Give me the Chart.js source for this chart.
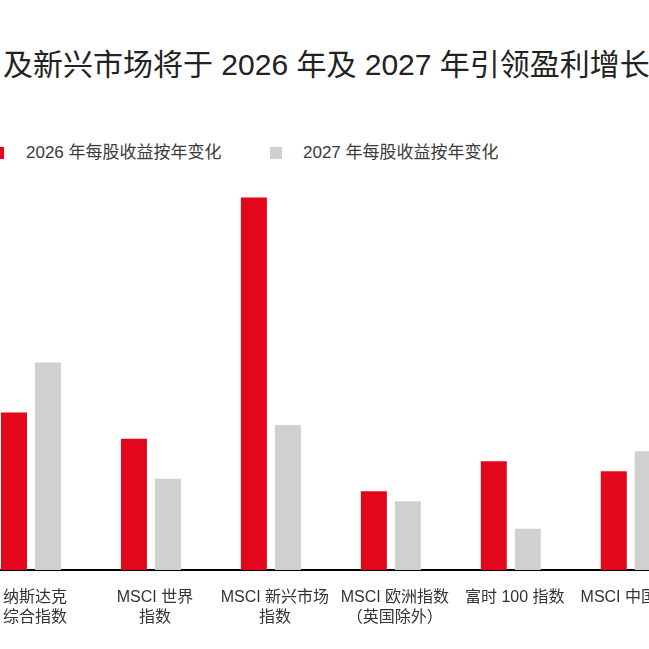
<!DOCTYPE html>
<html lang="zh">
<head>
<meta charset="utf-8">
<title>盈利增长</title>
<script src="https://cdn.jsdelivr.net/npm/chart.js@4.4.1/dist/chart.umd.min.js"></script>
<style>
  html, body { margin: 0; padding: 0; background: #fff; }
  body { width: 649px; height: 649px; overflow: hidden; position: relative;
         font-family: "Liberation Sans", "Noto Sans CJK SC", sans-serif; }
  #chart { position: absolute; left: -29px; top: 0; }
  .title { position: absolute; left: 3px; top: 47px; font-size: 30px; line-height: 36px;
           color: #222; white-space: nowrap; }
  .legend-item { position: absolute; top: 143px; height: 20px; font-size: 17px; line-height: 20px;
                 color: #3a3a3a; white-space: nowrap; }
  .legend-box { position: absolute; top: 147px; width: 12px; height: 12px; }
</style>
</head>
<body>

<div class="title">及新兴市场将于 2026 年及 2027 年引领盈利增长</div>

<div class="legend-box" id="box1" style="left:-8px"></div>
<div class="legend-item" id="lab1" style="left:26px"></div>
<div class="legend-box" id="box2" style="left:270px"></div>
<div class="legend-item" id="lab2" style="left:303px"></div>

<canvas id="chart" width="732" height="649"></canvas>

<script>
// 数据（从图中估算，单位 %）
const categories = [
    ["纳斯达克", "综合指数"],
    ["MSCI 世界", "指数"],
    ["MSCI 新兴市场", "指数"],
    ["MSCI 欧洲指数", "（英国除外）"],
    "富时 100 指数",
    "MSCI 中国指数"
];
const seriesNames = ["2026 年每股收益按年变化", "2027 年每股收益按年变化"];
const eps2026 = [12.6, 10.5, 29.8, 6.3, 8.7, 7.9];
const eps2027 = [16.6, 7.3, 11.6, 5.5, 3.3, 9.5];

const RED = "#e2071b";
const GREY = "#d0d0d0";

// 图例（HTML）
function buildLegend() {
    document.getElementById("box1").style.background = RED;
    document.getElementById("box2").style.background = GREY;
    document.getElementById("lab1").innerText = seriesNames[0];
    document.getElementById("lab2").innerText = seriesNames[1];
}

// 柱状图
function buildChart() {
    const ctx = document.getElementById("chart").getContext("2d");
    Chart.defaults.font.family = "'Liberation Sans', 'Noto Sans CJK SC', sans-serif";

    const chart = new Chart(ctx, {
        type: "bar",
        data: {
            labels: categories,
            datasets: [
                { label: seriesNames[0], data: eps2026, backgroundColor: RED, borderWidth: 0 },
                { label: seriesNames[1], data: eps2027, backgroundColor: GREY, borderWidth: 0 }
            ]
        },
        options: {
            responsive: false,
            animation: false,
            devicePixelRatio: 1,
            layout: { padding: { top: 170, left: 0, right: 0, bottom: 0 } },
            categoryPercentage: 68 / 120,
            barPercentage: 26 / 34,
            plugins: {
                legend: { display: false },
                title: { display: false },
                tooltip: { enabled: false }
            },
            scales: {
                x: {
                    grid: { display: false, drawTicks: false },
                    border: { display: true, color: "#000", width: 2 },
                    ticks: {
                        color: "#333",
                        padding: 18,
                        labelOffset: 4,
                        maxRotation: 0,
                        autoSkip: false,
                        font: { size: 16, lineHeight: 1.25 }
                    },
                    afterFit: function(scale) { scale.height = 79; }
                },
                y: {
                    display: false,
                    min: 0,
                    max: 32
                }
            }
        }
    });
    return chart;
}

buildLegend();
buildChart();
</script>
</body>
</html>
